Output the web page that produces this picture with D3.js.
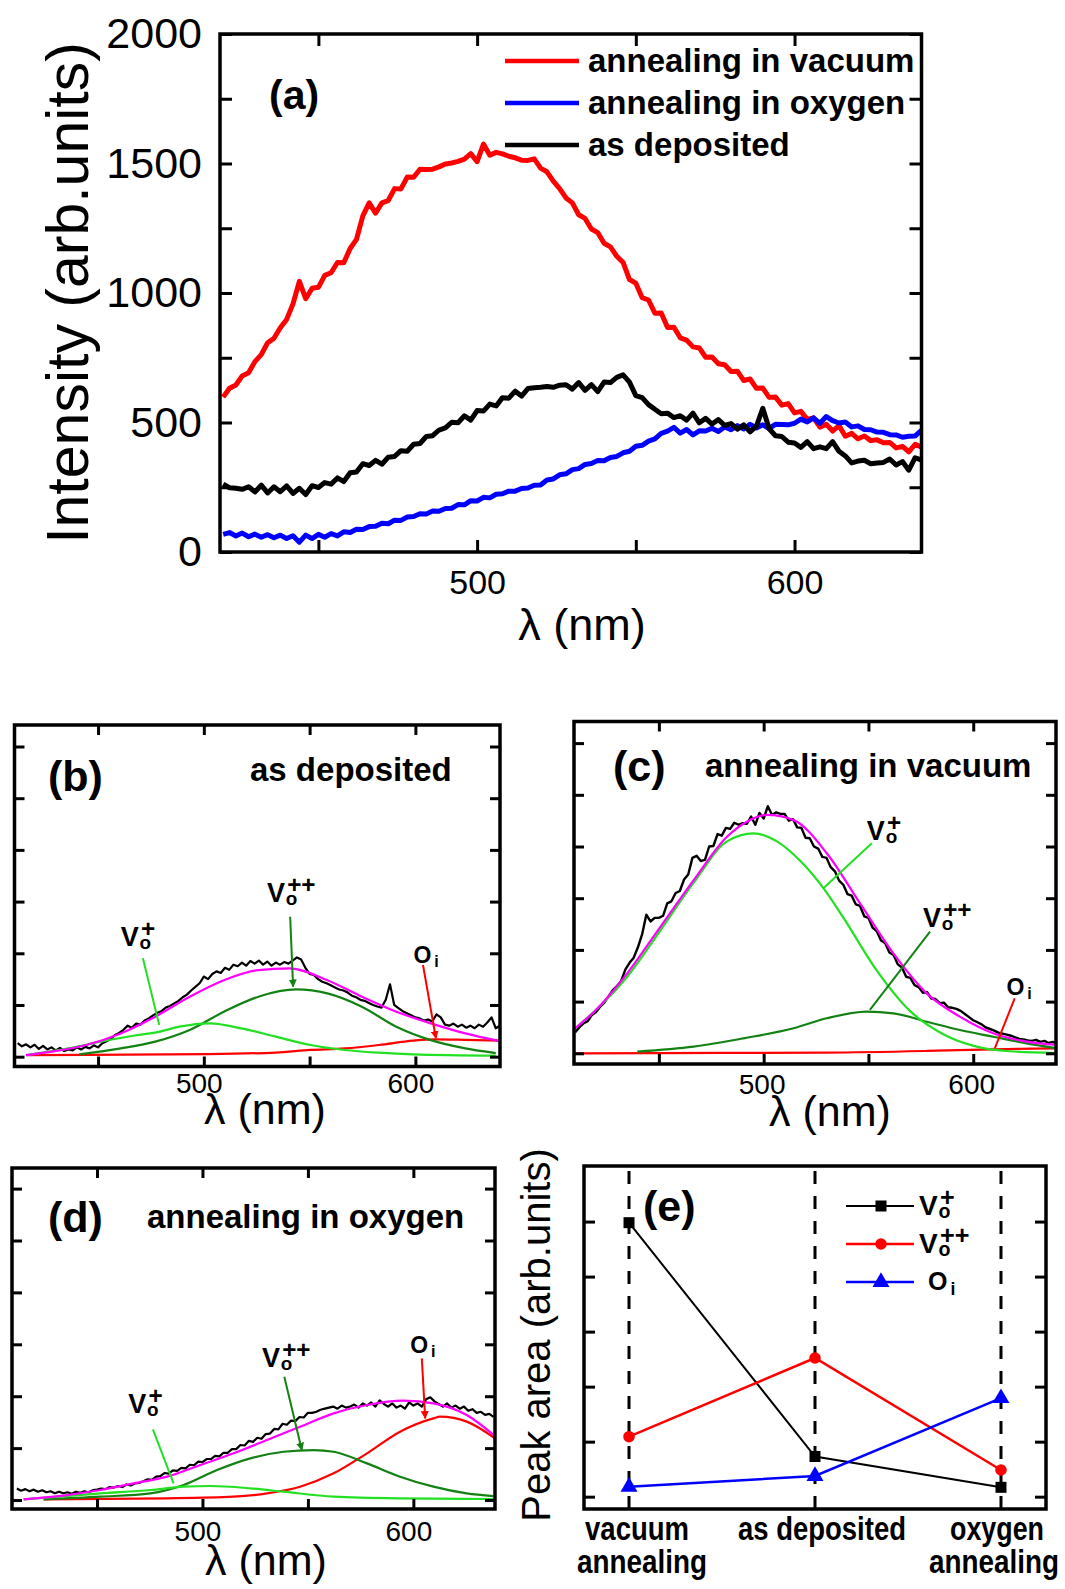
<!DOCTYPE html>
<html>
<head>
<meta charset="utf-8">
<script src="https://cdn.jsdelivr.net/npm/d3@7"></script>
<style>
  body { margin: 0; background: #fff; }
  svg text { font-family: "Liberation Sans", Arial, Helvetica, sans-serif; }
</style>
</head>
<body>
<div id="chart"></div>
<script>
// ---------------- data ----------------
// (a) PL spectra, 420..640 nm every 2 nm
const waveA = d3.range(420, 641, 2);
const vacuumA = [
  598, 632, 645, 680, 692, 735, 762, 808, 825, 866,
  898, 958, 1045, 978, 1018, 1022, 1068, 1078, 1118, 1117,
  1172, 1207, 1298, 1348, 1308, 1348, 1357, 1403, 1402, 1448,
  1447, 1478, 1477, 1478, 1487, 1498, 1502, 1508, 1517, 1538,
  1507, 1575, 1532, 1543, 1537, 1528, 1522, 1513, 1512, 1518,
  1482, 1468, 1432, 1403, 1367, 1348, 1302, 1288, 1247, 1233,
  1192, 1178, 1142, 1118, 1052, 1038, 982, 973, 922, 923,
  867, 868, 827, 818, 792, 788, 752, 753, 727, 723,
  697, 698, 662, 668, 632, 633, 597, 598, 567, 573,
  537, 543, 512, 518, 482, 493, 467, 488, 447, 458,
  437, 448, 430, 433, 422, 423, 402, 408, 387, 416,
  405
];
const oxygenA = [
  68, 75, 62, 73, 59, 69, 57, 67, 55, 65,
  52, 63, 38, 65, 52, 68, 57, 71, 62, 78,
  75, 88, 87, 98, 99, 111, 109, 123, 122, 135,
  137, 148, 147, 158, 157, 168, 169, 183, 182, 198,
  197, 211, 209, 223, 225, 235, 235, 245, 247, 258,
  259, 278, 282, 298, 302, 318, 322, 338, 342, 353,
  352, 365, 369, 383, 389, 408, 412, 428, 437, 458,
  467, 481, 459, 473, 452, 468, 467, 478, 465, 483,
  472, 488, 475, 493, 479, 491, 477, 493, 492, 491,
  497, 513, 502, 518, 497, 523, 507, 498, 502, 483,
  487, 473, 472, 463, 462, 453, 452, 443, 447, 448,
  470
];
const depositedA = [
  262, 248, 246, 242, 252, 232, 258, 228, 252, 233,
  255, 226, 246, 222, 256, 249, 268, 262, 286, 272,
  306, 309, 341, 334, 354, 339, 366, 369, 391, 389,
  416, 419, 446, 449, 471, 479, 501, 499, 526, 509,
  546, 544, 571, 564, 596, 594, 621, 602, 631, 634,
  636, 639, 636, 644, 646, 629, 654, 624, 646, 619,
  656, 654, 674, 684, 656, 604, 596, 569, 551, 534,
  536, 519, 526, 509, 536, 499, 516, 494, 511, 489,
  496, 474, 491, 464, 486, 555, 476, 449, 446, 424,
  421, 404, 426, 399, 406, 399, 426, 389, 371, 344,
  351, 354, 341, 344, 346, 359, 336, 349, 316, 364,
  355
];
const legendA = ['annealing in vacuum', 'annealing in oxygen', 'as deposited'];

// (b) as deposited, 412..640 nm every 2 nm
const waveB = d3.range(412, 641, 2);
const measuredB = [
  26, 20, 24, 18, 23, 15, 21, 14, 18, 12,
  17, 11, 14, 12, 18, 14, 19, 16, 22, 18,
  26, 30, 34, 42, 46, 52, 60, 56, 64, 62,
  70, 74, 80, 85, 88, 95, 98, 103, 108, 115,
  120, 128, 135, 142, 155, 150, 160, 165, 162, 172,
  168, 178, 175, 182, 176, 185, 180, 186, 178, 184,
  176, 182, 178, 183, 180, 186, 192, 188, 172, 160,
  158, 150, 145, 142, 138, 134, 130, 128, 124, 118,
  115, 110, 108, 104, 100, 97, 95, 110, 140, 100,
  94, 88, 84, 80, 76, 74, 70, 72, 68, 82,
  76, 62, 60, 64, 58, 62, 56, 60, 55, 62,
  58, 66, 76, 55, 60
];
const sumB = [[415.9, 3], [428, 9.7], [444.4, 22.6], [460.7, 45], [477, 77.4], [493.3, 116], [509.5, 148], [525.8, 167.6], [540.5, 171], [558.4, 148], [574.7, 116], [591, 87], [607.3, 64.5], [623.6, 45], [640, 30]];
const vPlusB = [[415.9, 3], [436, 16], [452.5, 30], [468.8, 42], [478.6, 48], [488.4, 58], [503, 64.5], [517.7, 54.8], [534, 38.7], [550.3, 22.6], [566.6, 12.9], [582.8, 7.7], [599, 4.5], [638, 2]];
const vPlusPlusB = [[441.1, 4.5], [460.7, 16], [477, 29], [493.3, 51.6], [509.5, 87], [525.8, 116], [543.7, 130], [558.4, 122.5], [574.7, 96.7], [591, 58], [607.3, 32], [623.6, 16], [638, 7]];
const oiB = [[416.4, 3], [501.4, 5], [534, 8], [550.3, 13], [566.6, 16], [582.8, 22.6], [599, 31], [609, 33.5], [623.6, 32.5], [640, 31]];

// (c) annealing in vacuum, 410..640 nm every 2 nm
const waveC = d3.range(410, 641, 2);
const measuredC = [
  40, 50, 58, 62, 74, 80, 90, 98, 110, 122,
  130, 140, 162, 175, 185, 205, 230, 268, 255, 262,
  262, 266, 290, 294, 310, 314, 336, 346, 378, 382,
  372, 374, 400, 401, 424, 421, 436, 434, 446, 442,
  445, 444, 458, 442, 465, 454, 478, 461, 466, 463,
  463, 450, 453, 437, 436, 417, 416, 400, 396, 380,
  378, 360, 352, 334, 326, 308, 305, 288, 285, 265,
  262, 243, 236, 218, 213, 195, 190, 172, 166, 148,
  146, 132, 128, 117, 118, 106, 105, 97, 98, 89,
  88, 86, 82, 76, 70, 64, 60, 56, 50, 47,
  44, 40, 38, 36, 34, 31, 28, 27, 25, 24,
  26, 22, 24, 20, 22, 19
];
const sumC = [[410, 48], [419, 80], [434.9, 154.7], [450.8, 245], [466.6, 335], [482.5, 419], [492, 448], [501.6, 461], [514.3, 451], [530.1, 387], [546, 290], [561.9, 193.4], [577.8, 116], [593.6, 71], [609.5, 38.7], [625.4, 22.6], [640, 16]];
const vPlusC = [[411, 51.6], [434.9, 148], [450.8, 238], [466.6, 330], [482.5, 410], [495.2, 425.5], [506.3, 410], [518, 370], [528.6, 319], [538.1, 262], [554, 160], [569.8, 82], [585.7, 37], [601.6, 13], [617.4, 4], [640, 0.5]];
const vPlusPlusC = [[439.7, 3.2], [466.6, 12.9], [490.5, 29], [514.3, 48.4], [530.1, 67.7], [549.2, 80.6], [561.9, 77.4], [577.8, 61], [593.6, 45], [609.5, 32], [625.4, 19.3], [640, 9.7]];
const oiC = [[410, 0], [450, 0.3], [490, 0.8], [530.1, 1.3], [577.8, 4.5], [609.5, 7.7], [640, 9.7]];

// (d) annealing in oxygen, 412..638 nm every 2 nm
const waveD = d3.range(412, 639, 2);
const measuredD = [
  22, 18, 21, 17, 20, 16, 19, 15, 17, 13,
  16, 13, 15, 12, 16, 14, 17, 15, 19, 20,
  22, 21, 25, 24, 27, 25, 30, 28, 32, 33,
  36, 40, 39, 45, 46, 52, 51, 57, 56, 62,
  61, 68, 67, 74, 73, 79, 79, 85, 84, 91,
  91, 98, 98, 106, 105, 114, 112, 120, 118, 127,
  128, 137, 136, 147, 145, 153, 152, 160, 159, 168,
  168, 170, 174, 176, 178, 180, 176, 182, 178, 180,
  184, 178, 186, 182, 188, 180, 192, 185, 180, 186,
  178, 182, 176, 188, 182, 186, 180, 194, 198, 190,
  185, 180, 186, 178, 182, 176, 180, 172, 175, 168,
  170, 164, 166, 160
];
const sumD = [[415.2, 1.3], [435.8, 9.6], [451.6, 19.3], [467.4, 32], [483.2, 45], [499, 67.4], [514.8, 90], [530.6, 115.6], [546.3, 141.3], [562.2, 167], [578, 183], [595.3, 191.4], [609.5, 186.3], [625.3, 163.8], [639, 122]];
const vPlusD = [[415.2, 1.3], [451.6, 12.8], [475.3, 19.3], [491.1, 25.7], [503.7, 27], [522.7, 22.5], [538.5, 16], [562.2, 6.4], [593.7, 3.2], [638, 2]];
const vPlusPlusD = [[424.7, 1.3], [451.6, 6.4], [475.3, 12.8], [491.1, 29], [506.9, 57.8], [522.7, 80.3], [538.5, 93], [552.7, 96.3], [562.2, 93], [578, 70.6], [593.7, 45], [609.5, 25.7], [625.3, 12.8], [638, 7.5]];
const oiD = [[424.7, 1.3], [483.2, 3.2], [514.8, 6.4], [530.6, 12.8], [546.3, 25.7], [562.2, 51.4], [578, 90], [593.7, 131.7], [609.5, 157.4], [612.7, 160.6], [625.3, 151], [639, 118]];

// (e) peak areas
const categories = ['vacuum annealing', 'as deposited', 'oxygen annealing'];
const areaVPlus = [4.98, 0.73, 0.17];
const areaVPlusPlus = [1.09, 2.52, 0.485];
const areaOi = [0.18, 0.376, 1.79];

// ---------------- style ----------------
const RED = '#ff0000', BLUE = '#0000ff', BLACK = '#000000';
const LGREEN = '#22e022', DGREEN = '#138213', MAGENTA = '#ff00ff';

const svg = d3.select('#chart').append('svg')
  .attr('width', 1065).attr('height', 1589);
svg.append('rect').attr('width', 1065).attr('height', 1589).attr('fill', '#fff');

const defs = svg.append('defs');
[['arrow-dg', DGREEN], ['arrow-red', RED]].forEach(([id, c]) => {
  defs.append('marker').attr('id', id)
    .attr('viewBox', '0 0 10 10').attr('refX', 9).attr('refY', 5)
    .attr('markerWidth', 4).attr('markerHeight', 4).attr('orient', 'auto')
    .append('path').attr('d', 'M0,0L10,5L0,10z').attr('fill', c);
});

function styleAxis(sel, size) {
  sel.attr('font-size', null).attr('font-family', null);
  sel.select('.domain').remove();
  sel.selectAll('.tick line').attr('stroke', BLACK).attr('stroke-width', 3);
  sel.selectAll('.tick text').attr('font-size', size).attr('fill', BLACK);
}

function txt(g, x, y, s, size, weight) {
  return g.append('text').attr('x', x).attr('y', y)
    .attr('font-size', size).attr('font-weight', weight || 'normal')
    .attr('fill', BLACK).text(s);
}

// V with superscript charge and subscript o, one text element
function vLabel(g, px, py, sup, size) {
  const t = g.append('text').attr('x', px).attr('y', py)
    .attr('font-weight', 'bold').attr('fill', BLACK);
  t.append('tspan').attr('font-size', size).text('V');
  t.append('tspan').attr('x', px + size * 0.75).attr('y', py - size * 0.33)
    .attr('font-size', size * 0.9).text(sup);
  t.append('tspan').attr('x', px + size * 0.7).attr('y', py + size * 0.11)
    .attr('font-size', size * 0.7).text('o');
}
function oLabel(g, px, py, size) {
  const t = g.append('text').attr('x', px).attr('y', py)
    .attr('font-weight', 'bold').attr('fill', BLACK);
  t.append('tspan').attr('font-size', size).text('O');
  t.append('tspan').attr('x', px + size * 0.9).attr('y', py + size * 0.18)
    .attr('font-size', size * 0.7).text('i');
}

const toPairs = (xs, ys) => xs.map((x, i) => [x, ys[i]]);

function spectrumPanel(cfg) {
  const g = svg.append('g');
  const x = d3.scaleLinear().domain(cfg.xDomain).range([cfg.left, cfg.right]);
  const y = d3.scaleLinear().domain(cfg.yDomain).range([cfg.bottom, cfg.top]);

  defs.append('clipPath').attr('id', 'clip-' + cfg.id).append('rect')
    .attr('x', cfg.left).attr('y', cfg.top)
    .attr('width', cfg.right - cfg.left).attr('height', cfg.bottom - cfg.top);
  const plot = g.append('g').attr('clip-path', `url(#clip-${cfg.id})`);

  cfg.series.forEach(s => {
    const line = d3.line().x(d => x(d[0])).y(d => y(d[1]));
    if (s.curve) line.curve(s.curve);
    plot.append('path').datum(s.data)
      .attr('fill', 'none').attr('stroke', s.color)
      .attr('stroke-width', s.width).attr('stroke-linejoin', 'round')
      .attr('d', line);
  });

  const none = () => '';
  const xLab = d => (d % 100 === 0 ? d : '');
  g.append('g').attr('transform', `translate(0,${cfg.bottom})`)
    .call(d3.axisBottom(x).tickValues(cfg.xTicks).tickFormat(xLab)
      .tickSizeInner(-cfg.tick).tickSizeOuter(0).tickPadding(cfg.xPad))
    .call(s => styleAxis(s, cfg.xFont))
    .selectAll('.tick text').attr('dx', cfg.xDx || 0);
  g.append('g').attr('transform', `translate(0,${cfg.top})`)
    .call(d3.axisTop(x).tickValues(cfg.xTicks).tickFormat(none)
      .tickSizeInner(-cfg.tick).tickSizeOuter(0))
    .call(s => styleAxis(s, 0));
  g.append('g').attr('transform', `translate(${cfg.left},0)`)
    .call(d3.axisLeft(y).tickValues(cfg.yTicks).tickFormat(cfg.yFormat || none)
      .tickSizeInner(-cfg.tick).tickSizeOuter(0).tickPadding(cfg.yPad || 3))
    .call(s => styleAxis(s, cfg.yFont || 0));
  g.append('g').attr('transform', `translate(${cfg.right},0)`)
    .call(d3.axisRight(y).tickValues(cfg.yTicks).tickFormat(none)
      .tickSizeInner(-cfg.tick).tickSizeOuter(0))
    .call(s => styleAxis(s, 0));

  g.append('rect')
    .attr('x', cfg.left).attr('y', cfg.top)
    .attr('width', cfg.right - cfg.left).attr('height', cfg.bottom - cfg.top)
    .attr('fill', 'none').attr('stroke', BLACK).attr('stroke-width', 3.5);

  (cfg.notes || []).forEach(n => {
    const p = n.line.map(d => [x(d[0]), y(d[1])]);
    const ln = g.append('line')
      .attr('x1', p[0][0]).attr('y1', p[0][1]).attr('x2', p[1][0]).attr('y2', p[1][1])
      .attr('stroke', n.color).attr('stroke-width', 2);
    if (n.arrow) ln.attr('marker-end', `url(#${n.arrow})`);
    if (n.kind === 'V') vLabel(g, x(n.at[0]), y(n.at[1]), n.sup, 27);
    else oLabel(g, x(n.at[0]), y(n.at[1]), 23);
  });

  return { g, x, y };
}

const fit = d3.curveMonotoneX;
const fitSeries = (vp, vpp, oi, sum) => [
  { data: oi, color: RED, width: 2.2, curve: fit },
  { data: vpp, color: DGREEN, width: 2.2, curve: fit },
  { data: vp, color: LGREEN, width: 2.2, curve: fit },
  { data: sum, color: MAGENTA, width: 2.2, curve: fit }
];

// ---------------- (a) ----------------
const pa = spectrumPanel({
  id: 'a', left: 220, right: 921.5, top: 34, bottom: 552,
  xDomain: [419, 640], yDomain: [0, 2000],
  xTicks: [450, 500, 550, 600], yTicks: d3.range(0, 2001, 250),
  tick: 12, xPad: 18, xFont: 34,
  yFormat: d => (d % 500 === 0 ? d : ''), yPad: 18, yFont: 43,
  series: [
    { data: toPairs(waveA, vacuumA), color: RED, width: 5 },
    { data: toPairs(waveA, oxygenA), color: BLUE, width: 5 },
    { data: toPairs(waveA, depositedA), color: BLACK, width: 5 }
  ]
});
txt(pa.g, 269, 109, '(a)', 41, 'bold');
[RED, BLUE, BLACK].forEach((c, i) => {
  const yy = 61 + i * 42;
  pa.g.append('line').attr('x1', 505).attr('x2', 579).attr('y1', yy).attr('y2', yy)
    .attr('stroke', c).attr('stroke-width', 4.5);
  txt(pa.g, 588, yy + 10.5, legendA[i], 33, 'bold');
});
txt(pa.g, 582, 640, 'λ (nm)', 45).attr('text-anchor', 'middle');
txt(pa.g, 0, 0, 'Intensity (arb.units)', 59)
  .attr('text-anchor', 'middle').attr('transform', 'translate(88,293) rotate(-90)');

// ---------------- (b) ----------------
const pb = spectrumPanel({
  id: 'b', left: 14.5, right: 500, top: 725, bottom: 1066.5,
  xDomain: [410.5, 640], yDomain: [-19, 641.6],
  xTicks: [450, 500, 550, 600], yTicks: d3.range(0, 601, 100),
  tick: 10, xPad: 7, xFont: 28, xDx: -5,
  series: [{ data: toPairs(waveB, measuredB), color: BLACK, width: 2.2 }]
    .concat(fitSeries(vPlusB, vPlusPlusB, oiB, sumB)),
  notes: [
    { kind: 'V', sup: '+', at: [460.7, 215], line: [[471.2, 190.3], [478.9, 61.3]], color: LGREEN },
    { kind: 'V', sup: '++', at: [529.8, 300], line: [[540.8, 270.8], [542.2, 135.4]], color: DGREEN, arrow: 'arrow-dg' },
    { kind: 'O', at: [599.1, 180.7], line: [[603.6, 177.4], [609.7, 35.6]], color: RED, arrow: 'arrow-red' }
  ]
});
txt(pb.g, 48, 791, '(b)', 43, 'bold');
txt(pb.g, 250, 781, 'as deposited', 33, 'bold');
txt(pb.g, 265, 1124, 'λ (nm)', 43).attr('text-anchor', 'middle');

// ---------------- (c) ----------------
const pc = spectrumPanel({
  id: 'c', left: 574, right: 1056, top: 721.5, bottom: 1064,
  xDomain: [409.5, 639.5], yDomain: [-20.7, 641.8],
  xTicks: [450, 500, 550, 600], yTicks: d3.range(0, 601, 100),
  tick: 10, xPad: 10, xFont: 28, xDx: -2,
  series: [{ data: toPairs(waveC, measuredC), color: BLACK, width: 2.4 }]
    .concat(fitSeries(vPlusC, vPlusPlusC, oiC, sumC)),
  notes: [
    { kind: 'V', sup: '+', at: [549.2, 412.6], line: [[551.6, 406.2], [528.5, 319.1]], color: LGREEN },
    { kind: 'V', sup: '++', at: [576, 245], line: [[579.4, 235.2], [550.7, 83.8]], color: DGREEN },
    { kind: 'O', at: [615.9, 112.8], line: [[619.8, 106.4], [610.3, 9.7]], color: RED }
  ]
});
txt(pc.g, 613, 781, '(c)', 43, 'bold');
txt(pc.g, 705, 777, 'annealing in vacuum', 33, 'bold');
txt(pc.g, 830, 1126, 'λ (nm)', 43).attr('text-anchor', 'middle');

// ---------------- (d) ----------------
const pd = spectrumPanel({
  id: 'd', left: 12, right: 495, top: 1168, bottom: 1509,
  xDomain: [409.7, 638.7], yDomain: [-17.3, 639.7],
  xTicks: [450, 500, 550, 600], yTicks: d3.range(0, 601, 100),
  tick: 10, xPad: 12, xFont: 28, xDx: -5,
  series: [{ data: toPairs(waveD, measuredD), color: BLACK, width: 2.2 }]
    .concat(fitSeries(vPlusD, vPlusPlusD, oiD, sumD)),
  notes: [
    { kind: 'V', sup: '+', at: [464.8, 167.6], line: [[476.5, 136.2], [486.3, 32.2]], color: LGREEN },
    { kind: 'V', sup: '++', at: [528.2, 256.3], line: [[538.8, 237.6], [547.1, 96.3]], color: DGREEN, arrow: 'arrow-dg' },
    { kind: 'O', at: [598.5, 282.7], line: [[604, 273], [605.6, 157.4]], color: RED, arrow: 'arrow-red' }
  ]
});
txt(pd.g, 48, 1232, '(d)', 43, 'bold');
txt(pd.g, 147, 1228, 'annealing in oxygen', 33, 'bold');
txt(pd.g, 266, 1575, 'λ (nm)', 43).attr('text-anchor', 'middle');

// ---------------- (e) ----------------
const E = { left: 584, right: 1046, top: 1166, bottom: 1509 };
const ge = svg.append('g');
const xe = d3.scalePoint().domain(categories).range([E.left, E.right]).padding(0.242);
const ye = d3.scaleLinear().domain([-0.224, 6.01]).range([E.bottom, E.top]);

categories.forEach(c => {
  ge.append('line').attr('x1', xe(c)).attr('x2', xe(c))
    .attr('y1', E.top + 5).attr('y2', E.bottom)
    .attr('stroke', BLACK).attr('stroke-width', 3).attr('stroke-dasharray', '13,12');
});

const eSeries = [
  { values: areaVPlus, color: BLACK, width: 2, symbol: d3.symbolSquare, size: 121 },
  { values: areaVPlusPlus, color: RED, width: 2.5, symbol: d3.symbolCircle, size: 105 },
  { values: areaOi, color: BLUE, width: 2.5, symbol: d3.symbolTriangle, size: 125 }
];
const eLine = d3.line().x(d => xe(d.c)).y(d => ye(d.v));
eSeries.forEach(s => {
  const pts = categories.map((c, i) => ({ c, v: s.values[i] }));
  ge.append('path').datum(pts).attr('d', eLine)
    .attr('fill', 'none').attr('stroke', s.color).attr('stroke-width', s.width);
  ge.selectAll(null).data(pts).join('path')
    .attr('transform', d => `translate(${xe(d.c)},${ye(d.v)})`)
    .attr('d', d3.symbol().type(s.symbol).size(s.size)).attr('fill', s.color);
});

const none = () => '';
ge.append('g').attr('transform', `translate(${E.left},0)`)
  .call(d3.axisLeft(ye).tickValues(d3.range(0, 6)).tickFormat(none).tickSizeInner(-11).tickSizeOuter(0))
  .call(s => styleAxis(s, 0));
ge.append('g').attr('transform', `translate(${E.right},0)`)
  .call(d3.axisRight(ye).tickValues(d3.range(0, 6)).tickFormat(none).tickSizeInner(-11).tickSizeOuter(0))
  .call(s => styleAxis(s, 0));
ge.append('rect').attr('x', E.left).attr('y', E.top)
  .attr('width', E.right - E.left).attr('height', E.bottom - E.top)
  .attr('fill', 'none').attr('stroke', BLACK).attr('stroke-width', 3.5);

txt(ge, 643, 1221, '(e)', 43, 'bold');

// legend (e)
eSeries.forEach((s, i) => {
  const yy = [1206, 1244, 1282][i];
  ge.append('line').attr('x1', 846).attr('x2', 914).attr('y1', yy).attr('y2', yy)
    .attr('stroke', s.color).attr('stroke-width', s.width);
  ge.append('path').attr('transform', `translate(881,${yy})`)
    .attr('d', d3.symbol().type(s.symbol).size(s.size)).attr('fill', s.color);
});
vLabel(ge, 919, 1215, '+', 28);
vLabel(ge, 919, 1253, '++', 28);
oLabel(ge, 928, 1290, 25);

// category labels: condensed bold, squeezed horizontally with a transform
const catLines = [['vacuum', 'annealing'], ['as deposited'], ['oxygen', 'annealing']];
const catDx = [[8, 13], [7], [-4, -7]];
const catWidth = { vacuum: 104, annealing: 130, 'as deposited': 168, oxygen: 94 };
categories.forEach((c, i) => {
  catLines[i].forEach((s, j) => {
    const t = ge.append('text').attr('font-size', 34).attr('font-weight', 'bold')
      .attr('fill', BLACK).attr('text-anchor', 'middle').text(s);
    const k = catWidth[s] / t.node().getComputedTextLength();
    t.attr('transform', `translate(${xe(c) + catDx[i][j]},${1540 + j * 33}) scale(${k},1)`);
  });
});
txt(ge, 0, 0, 'Peak area (arb.units)', 40)
  .attr('text-anchor', 'middle').attr('transform', 'translate(550,1335) rotate(-90)');
</script>
</body>
</html>
